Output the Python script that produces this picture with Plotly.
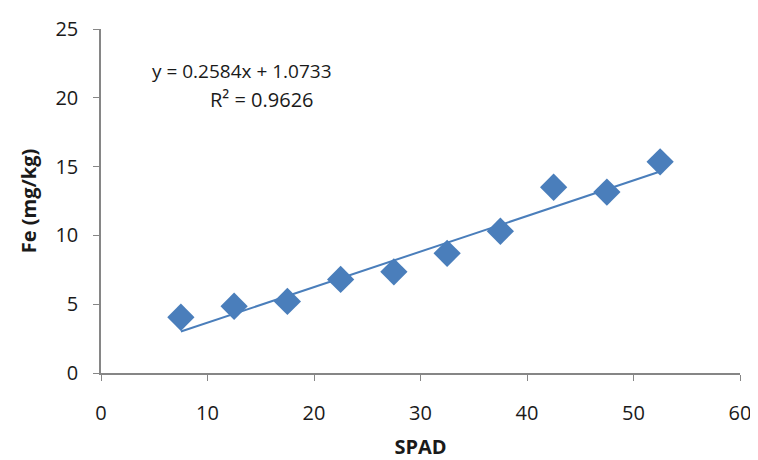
import plotly.graph_objects as go

spad = [7.5, 12.5, 17.5, 22.5, 27.5, 32.5, 37.5, 42.5, 47.5, 52.5]
fe = [4.05, 4.85, 5.2, 6.8, 7.35, 8.7, 10.3, 13.5, 13.15, 15.35]
slope = 0.2584
intercept = 1.0733
r2 = 0.9626
x_ticks = [0, 10, 20, 30, 40, 50, 60]
y_ticks = [0, 5, 10, 15, 20, 25]

blue = "#4a7ebb"
axis_col = "#868686"
font_fam = "'Open Sans', sans-serif"
txt_col = "#1a1a1a"

trend_x = [min(spad), max(spad)]
trend_y = [slope * v + intercept for v in trend_x]

fig = go.Figure()
fig.add_trace(go.Scatter(x=trend_x, y=trend_y, mode="lines",
                         line=dict(color=blue, width=2), showlegend=False,
                         hoverinfo="skip"))
fig.add_trace(go.Scatter(x=spad, y=fe, mode="markers",
                         marker=dict(symbol="diamond", size=21, color=blue,
                                     line=dict(width=0)),
                         showlegend=False))

fig.add_annotation(x=0.2207, y=0.878, xref="paper", yref="paper",
                   text=f"y = {slope}x + {intercept}",
                   showarrow=False, xanchor="center", yanchor="middle",
                   font=dict(family=font_fam, size=19, color=txt_col))
fig.add_annotation(x=0.252, y=0.794, xref="paper", yref="paper",
                   text=f"R² = {r2}",
                   showarrow=False, xanchor="center", yanchor="middle",
                   font=dict(family=font_fam, size=20, color=txt_col))

# page body has an 8px margin, so the figure is sized/offset to compensate
fig.update_layout(
    width=750, height=452,
    margin=dict(l=93, r=18, t=21, b=87),
    paper_bgcolor="white", plot_bgcolor="white",
    font=dict(family=font_fam, size=20, color=txt_col),
    xaxis=dict(range=[0, 60], tickvals=x_ticks, showgrid=False, zeroline=False,
               showline=True, linecolor=axis_col, linewidth=1.5,
               ticks="outside", ticklen=6, tickcolor=axis_col,
               ticklabelstandoff=15, automargin=False,
               tickfont=dict(size=20, color=txt_col),
               title=dict(text="<b>SPAD</b>", font=dict(size=20), standoff=16)),
    yaxis=dict(range=[0, 25], tickvals=y_ticks, showgrid=False, zeroline=False,
               showline=True, linecolor=axis_col, linewidth=1.5,
               ticks="outside", ticklen=6, tickcolor=axis_col,
               ticklabelstandoff=11, automargin=False,
               tickfont=dict(size=20, color=txt_col),
               title=dict(text="<b>Fe (mg/kg)</b>", font=dict(size=20), standoff=13)),
)

fig.write_html("out.html")
